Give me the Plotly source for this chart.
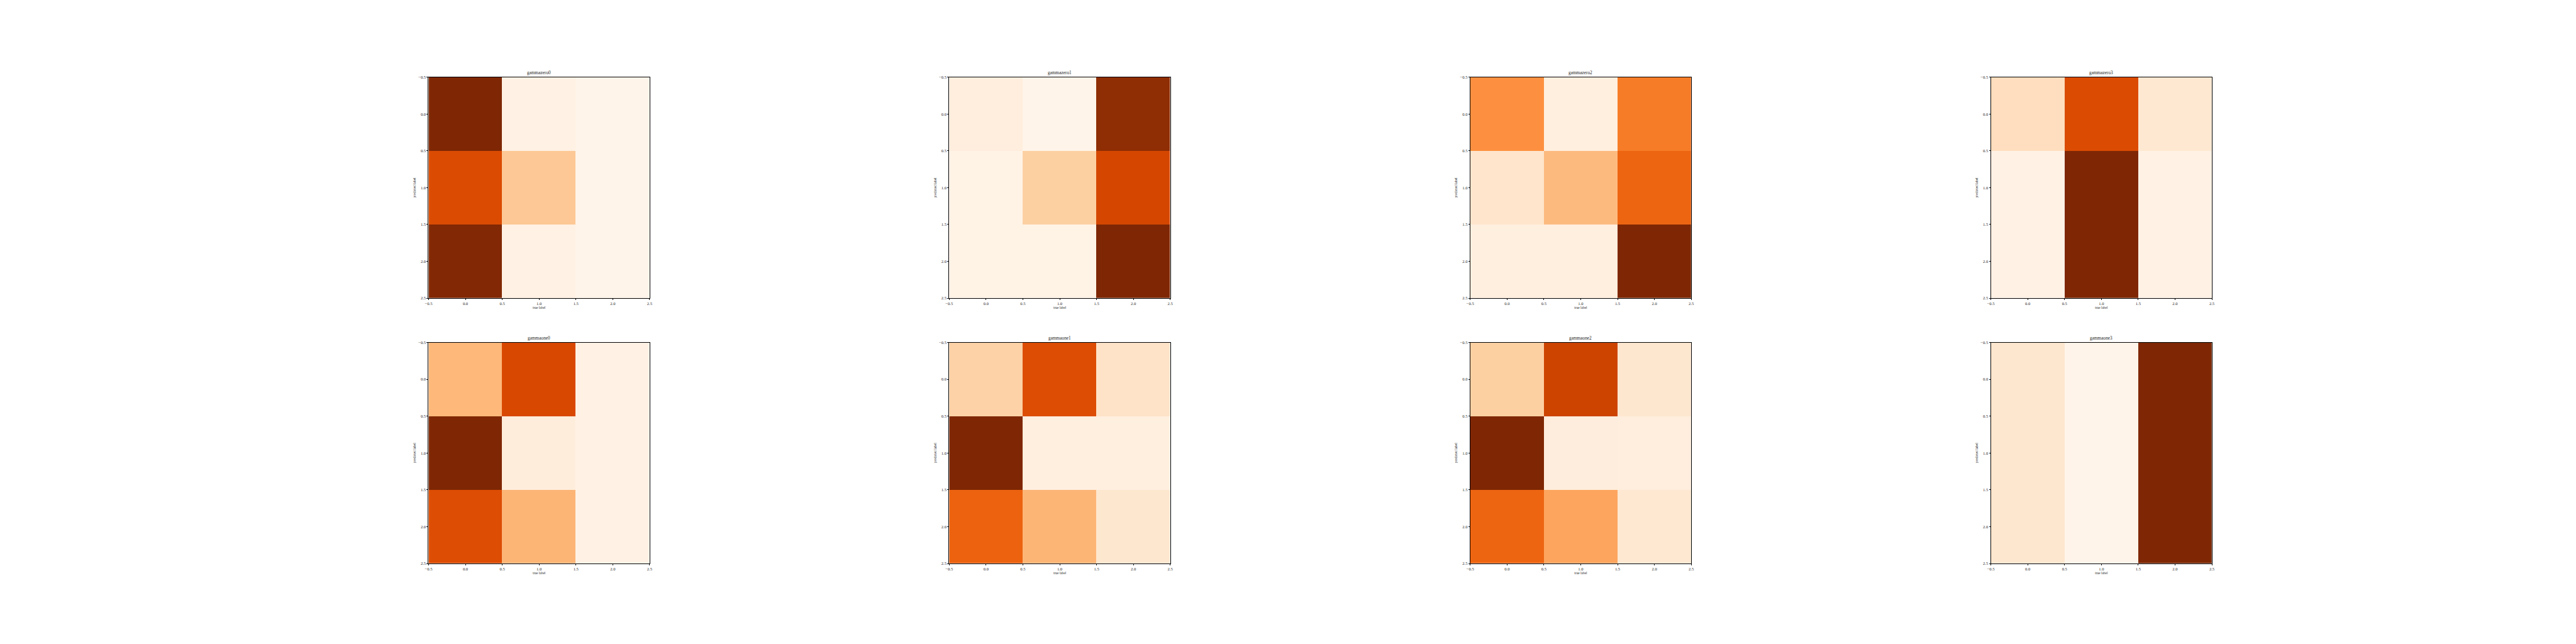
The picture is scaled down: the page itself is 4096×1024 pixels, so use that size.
import plotly.graph_objects as go

# ---------------- data ----------------
titles = ["gammazero0", "gammazero1", "gammazero2", "gammazero3",
          "gammaone0", "gammaone1", "gammaone2", "gammaone3"]
true_labels = [0, 1, 2]
pred_labels = [0, 1, 2]

gammazero0 = [[1.00, 0.035, 0.01], [0.74, 0.28, 0.01], [0.99, 0.03, 0.01]]
gammazero1 = [[0.06, 0.01, 0.95], [0.02, 0.25, 0.76], [0.02, 0.02, 1.00]]
gammazero2 = [[0.49, 0.05, 0.56], [0.13, 0.33, 0.64], [0.05, 0.05, 1.00]]
gammazero3 = [[0.17, 0.74, 0.11], [0.025, 1.00, 0.025], [0.025, 1.00, 0.025]]
gammaone0 = [[0.34, 0.75, 0.025], [1.00, 0.07, 0.025], [0.73, 0.35, 0.025]]
gammaone1 = [[0.24, 0.73, 0.14], [1.00, 0.05, 0.05], [0.65, 0.35, 0.12]]
gammaone2 = [[0.25, 0.78, 0.12], [1.00, 0.065, 0.06], [0.64, 0.41, 0.11]]
gammaone3 = [[0.12, 0.01, 1.00], [0.12, 0.01, 1.00], [0.12, 0.01, 1.00]]

matrices = [gammazero0, gammazero1, gammazero2, gammazero3,
            gammaone0, gammaone1, gammaone2, gammaone3]

tick_vals = [-0.5, 0.0, 0.5, 1.0, 1.5, 2.0, 2.5]
tick_text = ["\u22120.5", "0.0", "0.5", "1.0", "1.5", "2.0", "2.5"]
x_title = "true label"
y_title = "predicted label"

oranges = [[0.0, "#fff5eb"], [0.125, "#fee6ce"], [0.25, "#fdd0a2"],
           [0.375, "#fdae6b"], [0.5, "#fd8d3c"], [0.625, "#f16913"],
           [0.75, "#d94801"], [0.875, "#a63603"], [1.0, "#7f2704"]]

# ---------------- layout geometry (reference pixels) ----------------
REF_W, REF_H = 6912, 1728
W, H = 4096, 1024
col_left = [1150, 2547, 3945, 5342]
row_top = [207, 919]
box = 593

FONT = "Liberation Serif"
TXT = "#262626"

fig = go.Figure()
layout = dict(
    width=W, height=H,
    margin=dict(l=0, r=0, t=0, b=0),
    paper_bgcolor="white", plot_bgcolor="white",
    showlegend=False,
    font=dict(family=FONT, color=TXT),
)
annotations = []

for i, (name, z) in enumerate(zip(titles, matrices)):
    r, c = divmod(i, 4)
    n = i + 1
    xa = "x" if n == 1 else f"x{n}"
    ya = "y" if n == 1 else f"y{n}"
    fig.add_trace(go.Heatmap(
        z=z, x=true_labels, y=pred_labels,
        colorscale=oranges, zmin=0, zmax=1, showscale=False,
        xaxis=xa, yaxis=ya, hoverinfo="z",
    ))
    x0 = col_left[c] / REF_W
    x1 = (col_left[c] + box) / REF_W
    y1 = 1 - row_top[r] / REF_H
    y0 = 1 - (row_top[r] + box) / REF_H
    axis_common = dict(
        showgrid=False, zeroline=False, showline=True, mirror=True,
        linecolor="black", linewidth=1,
        ticks="outside", ticklen=2, tickwidth=0.7, tickcolor="black",
        tickmode="array", tickvals=tick_vals, ticktext=tick_text,
        tickfont=dict(family=FONT, size=6.6, color=TXT),
        automargin=False,
    )
    layout["xaxis" if n == 1 else f"xaxis{n}"] = dict(
        axis_common, domain=[x0, x1], range=[-0.5, 2.5],
        anchor=ya,
        title=dict(text=x_title, font=dict(family=FONT, size=5.4, color=TXT), standoff=2),
    )
    layout["yaxis" if n == 1 else f"yaxis{n}"] = dict(
        axis_common, domain=[y0, y1], range=[2.5, -0.5],
        anchor=xa,
        title=dict(text=y_title, font=dict(family=FONT, size=5.4, color=TXT), standoff=3),
    )
    annotations.append(dict(
        text=name, xref="paper", yref="paper",
        x=(x0 + x1) / 2, y=y1, xanchor="center", yanchor="bottom",
        yshift=1, showarrow=False,
        font=dict(family=FONT, size=7.3, color=TXT),
    ))

layout["annotations"] = annotations
fig.update_layout(**layout)
fig.write_html(
    "out.html",
    config={"displayModeBar": False},
    post_script="document.body.style.margin='0';document.body.style.padding='0';",
)
